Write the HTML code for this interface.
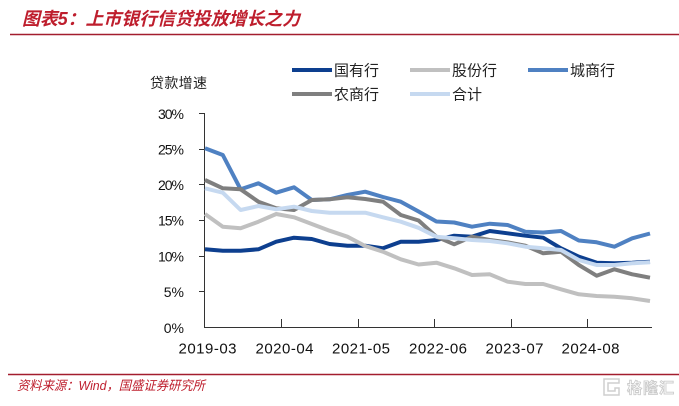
<!DOCTYPE html>
<html><head><meta charset="utf-8"><style>
html,body{margin:0;padding:0;background:#fff;}
svg{display:block;}
</style></head><body>
<svg width="679" height="406" viewBox="0 0 679 406" xmlns="http://www.w3.org/2000/svg">
<rect width="679" height="406" fill="#fff"/>
<!-- Title -->
<text x="22" y="25" font-family="'Liberation Sans','Noto Sans CJK SC',sans-serif" font-size="18" font-weight="bold" font-style="italic" fill="#be1e2d" textLength="278" lengthAdjust="spacingAndGlyphs">图表5：上市银行信贷投放增长之力</text>
<line x1="10" y1="34.5" x2="679" y2="34.5" stroke="#a31d2e" stroke-width="1.5"/>

<!-- Y axis title -->
<text x="150" y="88" font-family="'Liberation Sans','Noto Sans CJK SC',sans-serif" font-size="14" fill="#222" textLength="57">贷款增速</text>

<!-- Legend -->
<g font-family="'Liberation Sans','Noto Sans CJK SC',sans-serif" font-size="15" fill="#222">
<line x1="292" y1="70" x2="332" y2="70" stroke="#0d3f8f" stroke-width="4"/>
<text x="334" y="75.5">国有行</text>
<line x1="410" y1="70" x2="450" y2="70" stroke="#c0c0c0" stroke-width="4"/>
<text x="452" y="75.5">股份行</text>
<line x1="528" y1="70" x2="568" y2="70" stroke="#4f81c2" stroke-width="4"/>
<text x="570" y="75.5">城商行</text>
<line x1="292" y1="94" x2="332" y2="94" stroke="#7f7f7f" stroke-width="4"/>
<text x="334" y="99.5">农商行</text>
<line x1="410" y1="94" x2="450" y2="94" stroke="#c6d9f0" stroke-width="4"/>
<text x="452" y="99.5">合计</text>
</g>

<!-- Axes -->
<g stroke="#333" stroke-width="1" fill="none">
<line x1="204.5" y1="113" x2="204.5" y2="327.5"/>
<line x1="204" y1="327.5" x2="652" y2="327.5"/>
<line x1="199" y1="113.5" x2="204" y2="113.5"/>
<line x1="199" y1="149.5" x2="204" y2="149.5"/>
<line x1="199" y1="184.5" x2="204" y2="184.5"/>
<line x1="199" y1="220.5" x2="204" y2="220.5"/>
<line x1="199" y1="256.5" x2="204" y2="256.5"/>
<line x1="199" y1="291.5" x2="204" y2="291.5"/>
<line x1="281.5" y1="319" x2="281.5" y2="327"/>
<line x1="358.5" y1="319" x2="358.5" y2="327"/>
<line x1="434.5" y1="319" x2="434.5" y2="327"/>
<line x1="511.5" y1="319" x2="511.5" y2="327"/>
<line x1="587.5" y1="319" x2="587.5" y2="327"/>
</g>

<!-- Y labels -->
<g font-family="'Liberation Sans',sans-serif" font-size="14" fill="#111" text-anchor="end">
<text x="184" y="119" textLength="26">30%</text>
<text x="184" y="154.5" textLength="26">25%</text>
<text x="184" y="190" textLength="26">20%</text>
<text x="184" y="225.5" textLength="26">15%</text>
<text x="184" y="261.5" textLength="26">10%</text>
<text x="184" y="297">5%</text>
<text x="184" y="333">0%</text>
</g>

<!-- X labels -->
<g font-family="'Liberation Sans',sans-serif" font-size="15" fill="#111" text-anchor="middle">
<text x="207.5" y="353.5" textLength="58">2019-03</text>
<text x="284.5" y="353.5" textLength="58">2020-04</text>
<text x="361" y="353.5" textLength="58">2021-05</text>
<text x="438" y="353.5" textLength="58">2022-06</text>
<text x="514.5" y="353.5" textLength="58">2023-07</text>
<text x="590.5" y="353.5" textLength="58">2024-08</text>
</g>

<!-- Series -->
<g fill="none" stroke-width="4" stroke-linejoin="round" stroke-linecap="butt">
<!-- 国有行 -->
<polyline stroke="#0d3f8f" points="205,249.3 222.8,250.7 240.6,250.7 258.4,249.3 276.2,241.7 294,237.7 311.8,239 329.6,244 347.4,245.7 365.2,245.7 383,248.3 400.8,241.7 418.6,241.7 436.4,240 454.2,235.7 472,236.7 489.8,231 507.6,233.3 525.4,235.7 543.2,237.7 561,248.3 578.8,256.7 596.6,262.7 614.4,263.3 632.2,262.7 650,261.7"/>
<!-- 股份行 -->
<polyline stroke="#c0c0c0" points="205,214 222.8,226.7 240.6,228.3 258.4,221.7 276.2,214 294,217.3 311.8,224 329.6,230.7 347.4,236.7 365.2,246 383,251.7 400.8,259.3 418.6,264.5 436.4,262.7 454.2,268.3 472,275 489.8,274.3 507.6,281.7 525.4,284 543.2,284 561,289.3 578.8,294.3 596.6,296 614.4,296.7 632.2,298.3 650,301"/>
<!-- 城商行 -->
<polyline stroke="#4f81c2" points="205,148.3 222.8,155 240.6,189.3 258.4,183.3 276.2,192.7 294,187.3 311.8,200 329.6,199.3 347.4,195 365.2,191.7 383,197 400.8,201.7 418.6,211.5 436.4,221.5 454.2,222.5 472,226.7 489.8,223.7 507.6,225 525.4,231.7 543.2,232.5 561,231 578.8,240.5 596.6,242.3 614.4,246.7 632.2,238.3 650,233.5"/>
<!-- 农商行 -->
<polyline stroke="#7f7f7f" points="205,180 222.8,188.3 240.6,189.3 258.4,201.7 276.2,208.3 294,210 311.8,200 329.6,199.3 347.4,197.3 365.2,199 383,201.7 400.8,215 418.6,220.5 436.4,236.7 454.2,244.3 472,236.7 489.8,240 507.6,242.3 525.4,245.7 543.2,253.3 561,251.7 578.8,265 596.6,275.7 614.4,269.3 632.2,274.3 650,277.7"/>
<!-- 合计 -->
<polyline stroke="#c6d9f0" points="205,188.3 222.8,192.7 240.6,210 258.4,206 276.2,209.3 294,206.7 311.8,211 329.6,212.7 347.4,212.7 365.2,212.7 383,217.3 400.8,221.7 418.6,227.8 436.4,236.7 454.2,238.3 472,240 489.8,241 507.6,243.3 525.4,246.7 543.2,248.3 561,250 578.8,260 596.6,265 614.4,265 632.2,263.3 650,262.3"/>
</g>

<!-- Footer -->
<line x1="8" y1="374.5" x2="679" y2="374.5" stroke="#a31d2e" stroke-width="1.5"/>
<text x="17" y="390" font-family="'Liberation Sans','Noto Sans CJK SC',sans-serif" font-size="13" font-style="italic" fill="#be1e2d" textLength="188" lengthAdjust="spacingAndGlyphs">资料来源：Wind，国盛证券研究所</text>

<!-- Watermark -->
<g fill="none" stroke="#cfcfcf" stroke-width="1.5">
<path d="M604,379 h15 v4 h-11 v8 h7 v-3 h4 v7 h-15 z"/>
</g>
<text x="627" y="393" font-family="'Liberation Sans','Noto Sans CJK SC',sans-serif" font-size="15" font-weight="bold" fill="#fff" stroke="#cccccc" stroke-width="0.9" textLength="47">格隆汇</text>
</svg>
</body></html>
